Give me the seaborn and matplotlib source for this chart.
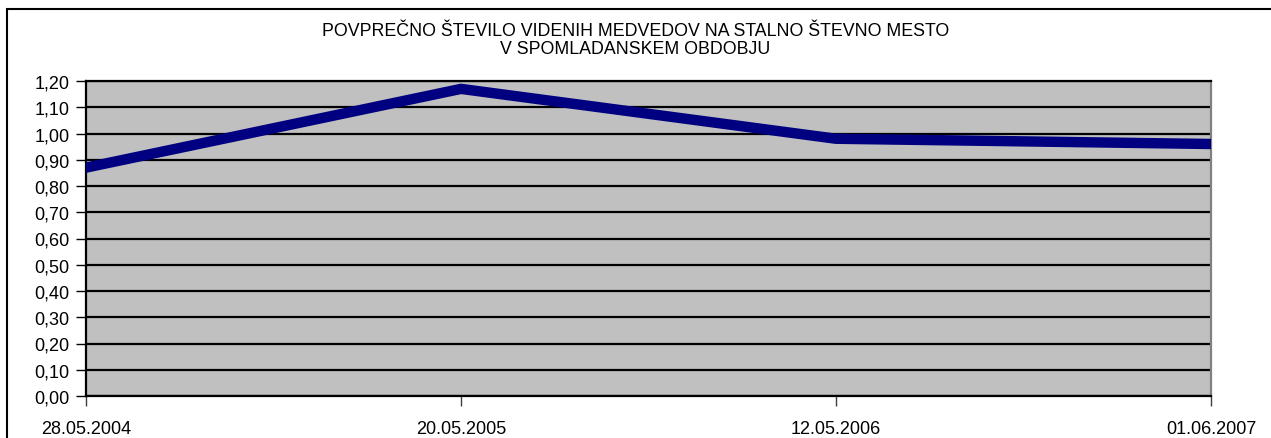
import matplotlib
matplotlib.use("Agg")
import matplotlib.pyplot as plt
import seaborn as sns
import pandas as pd
from matplotlib.patches import Rectangle
from matplotlib.ticker import FuncFormatter, MultipleLocator

# Data
dates = ['28.05.2004', '20.05.2005', '12.05.2006', '01.06.2007']
avg_bears = [0.87, 1.17, 0.98, 0.96]
title = 'POVPREČNO ŠTEVILO VIDENIH MEDVEDOV NA STALNO ŠTEVNO MESTO\nV SPOMLADANSKEM OBDOBJU'

df = pd.DataFrame({'datum': dates, 'povprecje': avg_bears})

sns.set_style('white')
plt.rcParams['font.family'] = ['Liberation Sans', 'DejaVu Sans']
plt.rcParams['text.color'] = 'black'
plt.rcParams['xtick.color'] = 'black'
plt.rcParams['ytick.color'] = 'black'

fig = plt.figure(figsize=(12.71, 4.39), dpi=100)
ax = fig.add_axes([86 / 1271, 1 - 397 / 439, 1125 / 1271, 315 / 439])

# outer chart border (cropped at right and bottom)
fig.patches.append(Rectangle((7 / 1271, -0.1), 1.2, 1 - 10 / 439 + 0.1,
                             transform=fig.transFigure, fill=False,
                             edgecolor='black', linewidth=1.5, zorder=0))

ax.set_facecolor('#c0c0c0')
sns.lineplot(data=df, x='datum', y='povprecje', sort=False, ax=ax,
             color='#000080', linewidth=7.5, zorder=5)

ax.set_xlim(0, len(dates) - 1)
ax.set_ylim(0, 1.2)
ax.yaxis.set_major_locator(MultipleLocator(0.1))
ax.yaxis.set_major_formatter(FuncFormatter(lambda v, p: f'{v:.2f}'.replace('.', ',')))
ax.grid(axis='y', color='black', linewidth=1.6, zorder=1)
ax.set_axisbelow(True)

ax.set_xlabel('')
ax.set_ylabel('')
ax.tick_params(axis='both', labelsize=13, length=7, width=1,
               direction='out', pad=5, labelcolor='black')
ax.tick_params(axis='y', color='black')
ax.tick_params(axis='x', color='#404040', pad=10)
ax.tick_params(left=True, bottom=True)

for side in ['left', 'bottom', 'top']:
    ax.spines[side].set_color('black')
    ax.spines[side].set_linewidth(1.6)
ax.spines['right'].set_color('#808080')
ax.spines['right'].set_linewidth(1.6)

fig.text(0.5, 1 - 40.5 / 439, title, ha='center', va='center', fontsize=12.8,
         linespacing=1.15, color='black')

fig.savefig('out.png', dpi=100)
